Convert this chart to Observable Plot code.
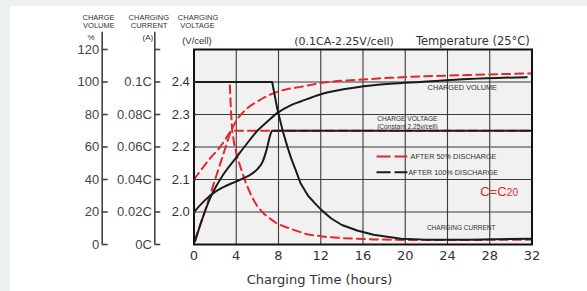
<!DOCTYPE html>
<html><head><meta charset="utf-8">
<script src="https://cdn.jsdelivr.net/npm/d3@7"></script>
<script src="https://cdn.jsdelivr.net/npm/@observablehq/plot@0.6"></script>
<style>
html,body{margin:0;padding:0;background:#edf1f1;width:587px;height:291px;overflow:hidden}
#card{position:absolute;left:10px;top:6px;width:577px;height:285px;background:#fff}
#chart{position:absolute;left:0;top:0}
</style></head><body><div id="card"></div><div id="chart"></div>
<script>
// ---- tick values / labels ----
const timeTicks = [0,4,8,12,16,20,24,28,32];
const volumeTicks = [0,20,40,60,80,100,120];
const currentTicks = [0,0.02,0.04,0.06,0.08,0.1,0.12];
const currentTickLabels = ["0C","0.02C","0.04C","0.06C","0.08C","0.1C",""];
const voltageTicks = [2.0,2.1,2.2,2.3,2.4];
const voltageTickLabels = ["2.0","2.1","2.2","2.3","2.4"];

// ---- after 50% discharge (red dashed) ----
const halfCurrentT = [0,3.38,3.5,3.62,3.8,4.1,4.4,4.9,5.5,6.0,6.6,7.3,7.9,9.15,10.7,12.3,13.9,17,20,26,32];
const halfCurrent  = [0.1,0.1,0.082,0.07,0.062,0.054,0.0476,0.038,0.029,0.0235,0.019,0.0155,0.0127,0.0096,0.0063,0.0048,0.004,0.0031,0.0028,0.0028,0.003];
const halfVoltageT = [0,0.8,1.6,2.4,2.9,3.4,3.6,32];
const halfVoltage  = [2.1,2.135,2.168,2.197,2.22,2.245,2.25,2.25];
const halfVolumeT  = [0.1,1,2,3,3.4,4,5,6,7.7,9.1,10.1,12.3,15.5,18.6,21.4,26,32];
const halfVolume   = [3,20,40,60,68,76,83.5,88,93.5,96,97,99.7,101.3,102.6,103.4,104.3,105.3];

// ---- after 100% discharge (black) ----
const fullCurrentT = [0,7.4,7.9,8.4,8.8,9.2,9.7,10.1,10.8,11.5,12.1,13,14,15.45,17,19.6,22,26,32];
const fullCurrent  = [0.1,0.1,0.083,0.07,0.061,0.053,0.0445,0.0375,0.03,0.025,0.021,0.016,0.012,0.0086,0.006,0.0035,0.003,0.003,0.0035];
const fullVoltageT = [0,1,2,3,4,4.7,5.5,6,6.5,6.9,7.2,7.4,32];
const fullVoltage  = [2.0,2.035,2.062,2.08,2.094,2.104,2.118,2.132,2.155,2.195,2.235,2.25,2.25];
const fullVolumeT  = [0.1,0.8,1.56,2.2,2.82,4,5,6,7,7.9,9.1,10.1,12,15.45,18.6,21.4,26,31.5];
const fullVolume   = [2,16,29,37,43.5,53.5,62,70,76,81,85.5,88,92.5,96.8,98.9,100,101.8,103];

// unit conversions onto the shared (charge volume %) y scale
const pV = v => (v - 1.9) * 200;   // V/cell -> %
const pC = c => c * 1000;          // C-rate -> %
const pP = p => p;
const series = (t, v, f) => t.map((x, i) => ({t: x, p: f(v[i])}));

const red = "#e5262c", ink = "#1b1b1b", txtc = "#333";
const sans = "'Liberation Sans', Arial, sans-serif";
const deja = "'DejaVu Sans', sans-serif";
const curLab = new Map(currentTicks.map((c, i) => [pC(c), currentTickLabels[i]]));
const volLab = new Map(voltageTicks.map((v, i) => [pV(v), voltageTickLabels[i]]));

const txt = (s, t, p, o = {}) => Plot.text([s], {x: t, y: p, text: d => d, fill: txtc, fontFamily: sans, ...o});
const redLine = (t, v, f, curve) => Plot.line(series(t, v, f), {x: "t", y: "p", stroke: red, strokeWidth: 2, strokeDasharray: "8,5", curve});
const blkLine = (t, v, f, curve) => Plot.line(series(t, v, f), {x: "t", y: "p", stroke: ink, strokeWidth: 2, strokeLinejoin: "round", curve});

const chart = Plot.plot({
  width: 587, height: 291,
  marginLeft: 193.5, marginRight: 55.5, marginTop: 49, marginBottom: 47,
  x: {domain: [0, 32]},
  y: {domain: [0, 120]},
  style: {background: "transparent", fontFamily: sans, overflow: "visible"},
  marks: [
    Plot.frame({fill: "#f1f1f1"}),
    Plot.gridX(timeTicks, {stroke: "#3a3a3a", strokeOpacity: 1, strokeWidth: 1.1}),
    Plot.gridY(volumeTicks, {stroke: "#3a3a3a", strokeOpacity: 1, strokeWidth: 1.1}),
    // red dashed: after 50% discharge
    redLine(halfCurrentT, halfCurrent, pC, "linear"),
    redLine(halfVoltageT, halfVoltage, pV, "monotone-x"),
    redLine(halfVolumeT, halfVolume, pP, "monotone-x"),
    // black: after 100% discharge
    blkLine(fullCurrentT, fullCurrent, pC, "linear"),
    blkLine(fullVoltageT, fullVoltage, pV, "monotone-x"),
    blkLine(fullVolumeT, fullVolume, pP, "monotone-x"),
    Plot.frame({stroke: "#111", strokeWidth: 2}),
    // in-plot labels
    txt("CHARGED VOLUME", 25.4, 96.4, {fontSize: 7.3}),
    txt("CHARGE VOLTAGE", 20.2, 77.1, {fontSize: 6.6}),
    txt("(Constant 2.25v/cell)", 20.2, 72.6, {fontSize: 6.6}),
    txt("CHARGING CURRENT", 25.3, 10.3, {fontSize: 6.5}),
    txt("C=C", 29.59, 32.2, {fill: red, fontSize: 13, textAnchor: "end"}),
    txt("20", 29.62, 31.9, {fill: red, fontSize: 10, textAnchor: "start"}),
    // legend
    Plot.link([0], {x1: 17.28, x2: 20.2, y1: 54.2, y2: 54.2, stroke: red, strokeWidth: 2, strokeDasharray: "14,4"}),
    Plot.link([0], {x1: 17.28, x2: 20.2, y1: 44.5, y2: 44.5, stroke: ink, strokeWidth: 2, strokeDasharray: "14,4"}),
    txt("AFTER 50% DISCHARGE", 20.5, 54.2, {fontSize: 7.3, textAnchor: "start"}),
    txt("AFTER 100% DISCHARGE", 20.28, 44.5, {fontSize: 7.3, textAnchor: "start"}),
    // titles
    txt("(0.1CA-2.25V/cell)", 14.2, 124.9, {fontSize: 11, fontFamily: deja}),
    txt("Temperature (25°C)", 26.4, 124.9, {fontSize: 11.5, fontFamily: deja}),
    txt("Charging Time (hours)", 11.88, -21.8, {fontSize: 13, fontFamily: deja}),
    // axis headers
    txt("CHARGE", -9.04, 139.9, {fontSize: 7.5}),
    txt("VOLUME", -9.0, 134.8, {fontSize: 7.5}),
    txt("%", -9.75, 127.2, {fontSize: 8}),
    txt("CHARGING", -4.28, 139.9, {fontSize: 7.5}),
    txt("CURRENT", -4.25, 134.8, {fontSize: 7.5}),
    txt("(A)", -4.36, 127.2, {fontSize: 8}),
    txt("CHARGING", 0.38, 139.9, {fontSize: 7.5}),
    txt("VOLTAGE", 0.33, 134.8, {fontSize: 7.5}),
    txt("(V/cell)", 0.28, 125.2, {fontSize: 9.5}),
    // left axis lines
    Plot.ruleX([0], {y1: 0, y2: 130.6, dx: -91.8, stroke: "#444", strokeWidth: 1.6}),
    Plot.ruleX([0], {y1: 0, y2: 130.6, dx: -39.2, stroke: "#444", strokeWidth: 1.6}),
    // axes
    Plot.axisX(timeTicks, {tickSize: 0, tickPadding: 6, fontSize: 13, fontFamily: deja, color: txtc, label: null}),
    Plot.axisY(volumeTicks, {anchor: "left", dx: -91.8, tickSize: -6, tickPadding: 9, fontSize: 13, color: "#444", strokeWidth: 1.6, label: null}),
    Plot.axisY(currentTicks.map(pC), {anchor: "left", dx: -39.2, tickSize: -6, tickPadding: 9, fontSize: 13, color: "#444", strokeWidth: 1.6, label: null, tickFormat: d => curLab.get(d)}),
    Plot.axisY(voltageTicks.map(pV), {anchor: "left", tickSize: -2.5, tickPadding: 6.7, fontSize: 13, color: "#333", strokeWidth: 1.6, label: null, tickFormat: d => volLab.get(d)})
  ]
});
document.getElementById("chart").append(chart);
</script></body></html>
